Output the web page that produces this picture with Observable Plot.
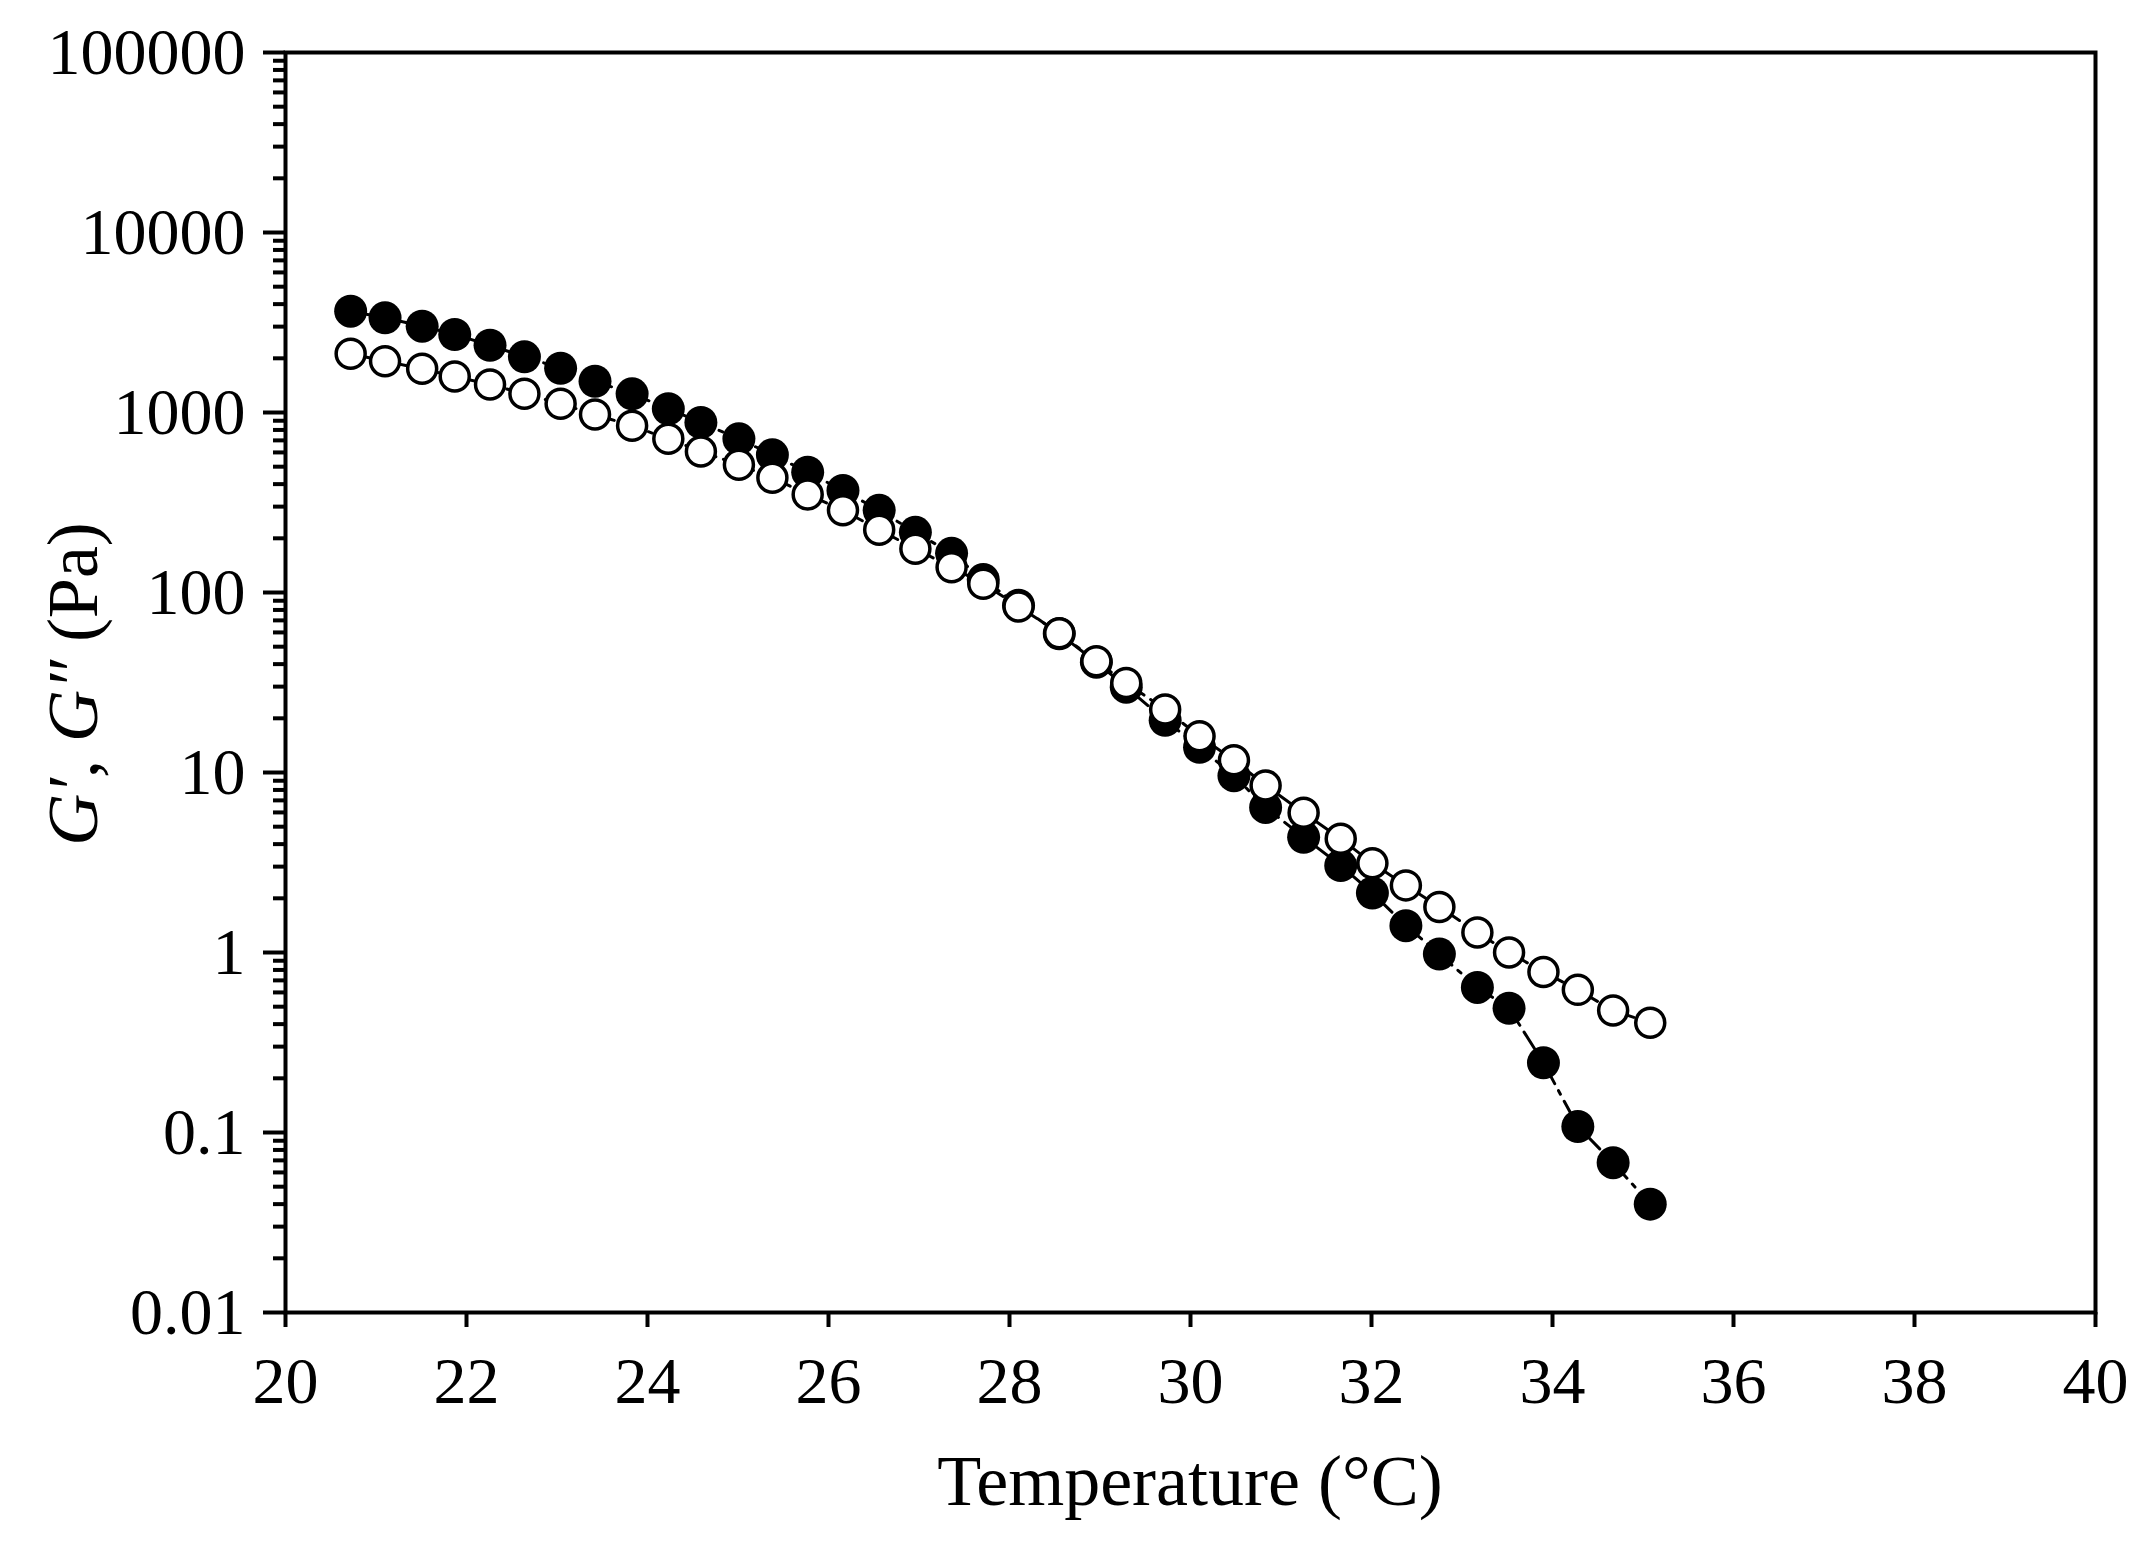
<!DOCTYPE html>
<html>
<head>
<meta charset="utf-8">
<script src="https://cdn.jsdelivr.net/npm/d3@7"></script>
<script src="https://cdn.jsdelivr.net/npm/@observablehq/plot@0.6"></script>
<style>
  html, body { margin: 0; padding: 0; background: #fff; }
  #chart { width: 2151px; height: 1551px; }
</style>
</head>
<body>
<div id="chart"></div>
<script>
// Temperature (°C)
const temperature = [20.72, 21.10, 21.51, 21.87, 22.26, 22.64, 23.04, 23.42, 23.83, 24.23,
  24.59, 25.01, 25.38, 25.77, 26.16, 26.56, 26.96, 27.36, 27.71, 28.10,
  28.55, 28.96, 29.29, 29.72, 30.10, 30.48, 30.83, 31.25, 31.66, 32.01,
  32.38, 32.75, 33.17, 33.52, 33.90, 34.28, 34.67, 35.08];
// G' (Pa), filled circles
const gPrime = [3656, 3357, 3016, 2711, 2364, 2039, 1762, 1492, 1270, 1049,
  880, 714, 582, 466, 369, 286, 216, 165, 118, 85,
  59, 41, 29.8, 19.5, 13.8, 9.6, 6.4, 4.37, 3.04, 2.14,
  1.41, 0.98, 0.64, 0.49, 0.244, 0.108, 0.068, 0.040];
// G'' (Pa), open circles
const gDoublePrime = [2118, 1928, 1749, 1585, 1431, 1270, 1118, 975, 843, 714,
  607, 512, 434, 350, 286, 223, 175, 138, 112, 83.6,
  59.4, 41.5, 31.4, 22.4, 15.9, 11.7, 8.47, 5.97, 4.28, 3.13,
  2.36, 1.79, 1.29, 1.00, 0.78, 0.62, 0.476, 0.407];

const xTicks = [20, 22, 24, 26, 28, 30, 32, 34, 36, 38, 40];
const yTicks = [0.01, 0.1, 1, 10, 100, 1000, 10000, 100000];
const yTickLabels = ["0.01", "0.1", "1", "10", "100", "1000", "10000", "100000"];
const xTitle = "Temperature (°C)";

const yMinor = [];
for (let i = 0; i < yTicks.length - 1; i++) {
  for (let k = 2; k <= 9; k++) yMinor.push(yTicks[i] * k);
}

const dataG1 = temperature.map((t, i) => ({t, v: gPrime[i]}));
const dataG2 = temperature.map((t, i) => ({t, v: gDoublePrime[i]}));

const font = "'Liberation Serif', 'Times New Roman', serif";

const plot = Plot.plot({
  width: 2151,
  height: 1551,
  marginLeft: 285,
  marginRight: 56,
  marginTop: 52,
  marginBottom: 239,
  style: {fontFamily: font, fontSize: "66px", background: "white", color: "black", overflow: "visible"},
  x: {domain: [20, 40]},
  y: {type: "log", domain: [0.01, 100000]},
  marks: [
    Plot.axisX({ticks: xTicks, tickSize: 15, tickPadding: 29, strokeWidth: 4, label: null, fontSize: 66, tickFormat: d => String(d)}),
    Plot.axisY({ticks: yMinor, tickSize: 12, strokeWidth: 4, tickFormat: () => "", label: null}),
    Plot.axisY({ticks: yTicks, tickSize: 22, tickPadding: 18, strokeWidth: 4, label: null, fontSize: 66,
      tickFormat: d => yTickLabels[yTicks.indexOf(d)]}),
    Plot.line(dataG1, {x: "t", y: "v", stroke: "black", strokeWidth: 3, strokeDasharray: "20,8,4,8"}),
    Plot.line(dataG2, {x: "t", y: "v", stroke: "black", strokeWidth: 3, strokeDasharray: "20,8,4,8"}),
    Plot.dot(dataG1, {x: "t", y: "v", r: 16.5, fill: "black", stroke: "none"}),
    Plot.dot(dataG2, {x: "t", y: "v", r: 14.5, fill: "white", stroke: "black", strokeWidth: 3.5}),
    Plot.frame({stroke: "black", strokeWidth: 4})
  ]
});

document.getElementById("chart").appendChild(plot);

const svg = d3.select(plot);
svg.append("text")
  .attr("x", 1190).attr("y", 1505)
  .attr("text-anchor", "middle")
  .attr("font-family", font)
  .attr("font-size", 72)
  .attr("fill", "black")
  .text(xTitle);

const yt = svg.append("text")
  .attr("transform", "translate(97,684) rotate(-90)")
  .attr("text-anchor", "middle")
  .attr("font-family", font)
  .attr("font-size", 72)
  .attr("fill", "black");
yt.append("tspan").attr("font-style", "italic").text("G′");
yt.append("tspan").text(", ");
yt.append("tspan").attr("font-style", "italic").text("G″");
yt.append("tspan").text(" (Pa)");
</script>
</body>
</html>
